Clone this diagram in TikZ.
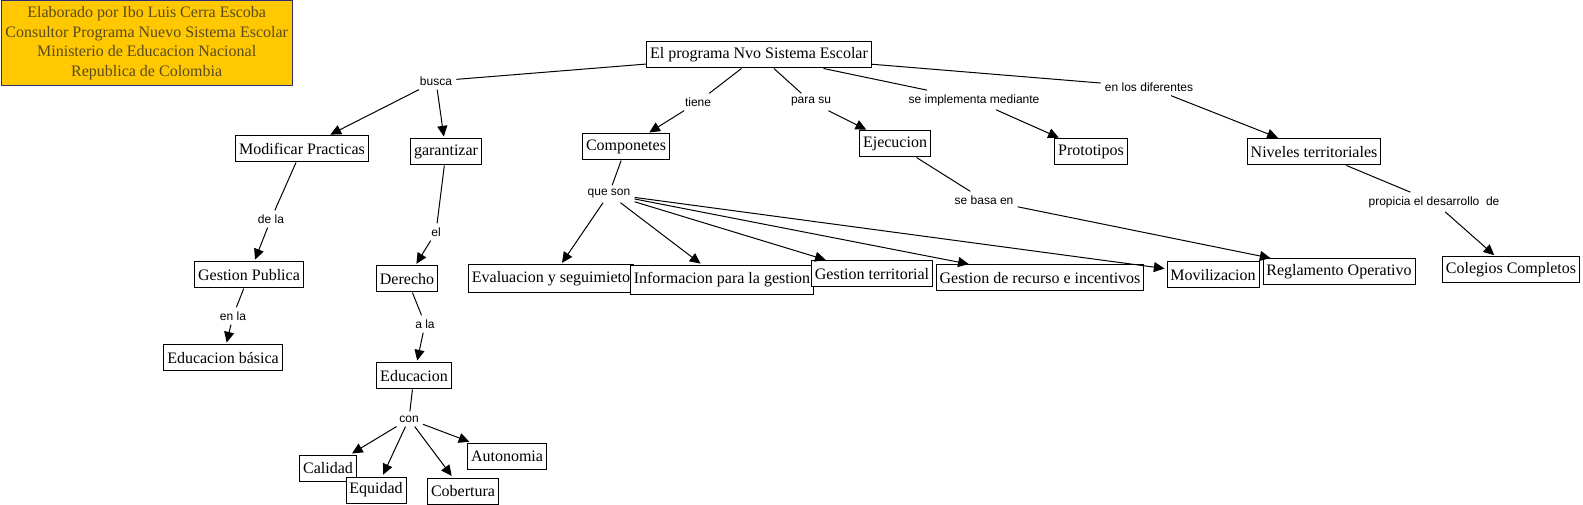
\documentclass[tikz,border=0pt]{standalone}
\usepackage{fontspec}
\setmainfont{Liberation Serif}
\newfontfamily\linkfont{Liberation Sans}
\usetikzlibrary{arrows.meta}

\definecolor{headfill}{HTML}{FFC800}
\definecolor{headline}{HTML}{2D2A78}
\definecolor{headtext}{HTML}{5A4B1E}

\tikzset{
  concept/.style={draw, fill=white, line width=0.75pt, inner xsep=2.5pt, inner ysep=0pt,
    minimum height=19.5pt, font=\fontsize{12}{14}\selectfont},
  link/.style={inner sep=3pt, font=\linkfont\fontsize{9}{10}\selectfont},
  ln/.style={line width=0.75pt},
  arr/.style={line width=0.75pt, -{Triangle[length=8pt,width=7.5pt]}, shorten >=1.5pt}
}

\begin{document}
\begin{tikzpicture}[x=0.75pt, y=-0.75pt]

\useasboundingbox (0,0) rectangle (1583,505);

\node[draw=headline, fill=headfill, line width=0.75pt, anchor=north west,
  minimum width=218.5pt, minimum height=63.5pt, inner sep=0pt, align=center,
  text=headtext, font=\fontsize{12}{14.6}\selectfont] (head) at (0.5,0.5)
  {Elaborado por Ibo Luis Cerra Escoba\\Consultor Programa Nuevo Sistema Escolar\\
   Ministerio de Educacion Nacional\\Republica de Colombia};

% conceptos
\node[concept] (main) at (759,55) {El programa Nvo Sistema Escolar};
\node[concept] (modif) at (302,149) {Modificar Practicas};
\node[concept] (garan) at (446,152) {garantizar};
\node[concept] (compo) at (626,147) {Componetes};
\node[concept] (ejec) at (895,144) {Ejecucion};
\node[concept] (proto) at (1091,152) {Prototipos};
\node[concept] (nivel) at (1314,152) {Niveles territoriales};
\node[concept] (coleg) at (1511,270) {Colegios Completos};
\node[concept, minimum height=21pt] (evalu) at (551,279) {Evaluacion y seguimieto};
\node[concept, minimum height=22pt] (infor) at (722,280) {Informacion para la gestion};
\node[concept] (terri) at (872,274) {Gestion territorial};
\node[concept] (recur) at (1040,278) {Gestion de recurso e incentivos};
\node[concept] (movil) at (1213,275) {Movilizacion};
\node[concept] (regla) at (1339,272) {Reglamento Operativo};
\node[concept] (gpub) at (249,275) {Gestion Publica};
\node[concept] (edbas) at (223,358) {Educacion básica};
\node[concept] (derecho) at (407,279) {Derecho};
\node[concept] (educ) at (414,376) {Educacion};
\node[concept] (calidad) at (328,468) {Calidad};
\node[concept] (equidad) at (376,490) {Equidad};
\node[concept] (cobert) at (463,491) {Cobertura};
\node[concept] (auton) at (507,456) {Autonomia};

% frases de enlace
\node[link] (busca) at (436,81) {busca};
\node[link] (tiene) at (698,102) {tiene};
\node[link] (parasu) at (811,102) {para su};
\node[link] (seimp) at (974,100) {se implementa mediante};
\node[link] (enlos) at (1149,87) {en los diferentes};
\node[link] (propi) at (1434,202) {propicia el desarrollo\ \ de};
\node[link] (sebasa) at (984,200) {se basa en};
\node[link] (queson) at (609,194) {que son};
\node[link] (dela) at (271,219) {de la};
\node[link] (enla) at (233,316) {en la};
\node[link] (el) at (436,232) {el};
\node[link] (ala) at (425,324) {a la};
\node[link] (con) at (409,419) {con};

\foreach \a/\b in {main/busca, main/tiene, main/parasu, main/seimp, main/enlos,
  nivel/propi, ejec/sebasa, compo/queson, modif/dela, gpub/enla,
  garan/el, derecho/ala, educ/con}
  \draw[ln] (\a) -- (\b);

\foreach \a/\b in {busca/modif, busca/garan, tiene/compo, parasu/ejec, seimp/proto,
  enlos/nivel, propi/coleg, sebasa/regla, dela/gpub, enla/edbas, el/derecho,
  ala/educ, con/calidad, con/equidad, con/cobert, con/auton}
  \draw[arr] (\a) -- (\b);

\foreach \b in {evalu, infor, terri, recur, movil}
  \draw[arr] (queson) -- (\b);

\end{tikzpicture}
\end{document}
